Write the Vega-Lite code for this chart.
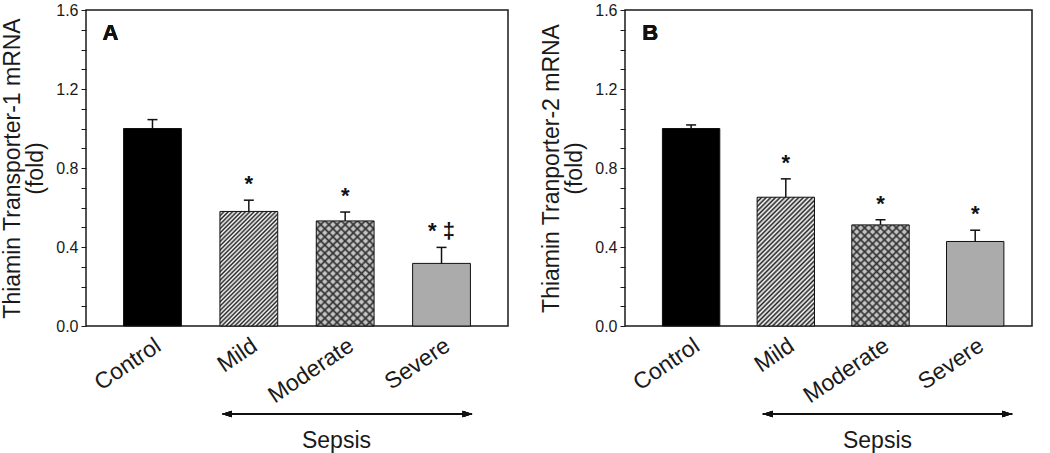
{
"$schema":"https://vega.github.io/schema/vega-lite/v6.json",
"background":"white",
"padding":{"left":1,"top":1,"right":5,"bottom":5},
"config":{
 "font":"Liberation Sans",
 "view":{"stroke":"#1a1a1a","strokeWidth":1.5},
 "axis":{"grid":false,"labelFont":"Liberation Sans","titleFont":"Liberation Sans","labelColor":"#1a1a1a","titleColor":"#1a1a1a","tickColor":"#1a1a1a","domain":false,"titleFontWeight":"normal"},
 "concat":{"spacing":31}
},
"hconcat":[
{
 "width":422,"height":316,
 "data":{"values":[
  {"group":"Control","mean":1.0,"upper":1.045,"sig":""},
  {"group":"Mild","mean":0.58,"upper":0.637,"sig":"*"},
  {"group":"Moderate","mean":0.532,"upper":0.577,"sig":"*"},
  {"group":"Severe","mean":0.317,"upper":0.398,"sig":"* ‡"}
 ]},
 "encoding":{
  "x":{"field":"group","type":"nominal","sort":null,
   "scale":{"domain":["Control","Mild","Moderate","Severe"],"paddingInner":0.4,"paddingOuter":0.39},
   "axis":{"title":"Sepsis","titleFontSize":23,"titleX":250,"titleY":121,"titleBaseline":"alphabetic","titleAlign":"center","labelAngle":-34,"labelAlign":"right","labelBaseline":"top","labelFontSize":23,"labelPadding":8,"labelOffset":0,"ticks":false,"tickSize":0}},
  "y":{"field":"mean","type":"quantitative",
   "scale":{"domain":[0,1.6],"nice":false,"zero":false},
   "axis":{"title":["Thiamin Transporter-1 mRNA","(fold)"],"values":[0,0.1,0.2,0.3,0.4,0.5,0.6,0.7,0.8,0.9,1,1.1,1.2,1.3,1.4,1.5,1.6],"labelExpr":"round(datum.value*10) % 4 === 0 ? format(datum.value, '.1f') : ''","labelOverlap":false,"labelFlush":false,"labelFontSize":16,"labelPadding":3,"tickSize":5,"tickWidth":1,"titleFontSize":23,"titleLineHeight":23,"titlePadding":8}}
 },
 "layer":[
  {"transform":[{"filter":"datum.group === 'Control'"}],"mark":{"type":"bar","fill":"#000","stroke":"#111","strokeWidth":1}},
  {"transform":[{"filter":"datum.group === 'Mild'"}],"mark":{"type":"bar","stroke":"#111","strokeWidth":1,"fill":{"gradient":"linear","x1":0,"y1":0,"x2":0.6049,"y2":1.1993,"stops":[
   {"offset":0,"color":"#222"},{"offset":0.0125,"color":"#fff"},{"offset":0.025,"color":"#222"},{"offset":0.0375,"color":"#fff"},{"offset":0.05,"color":"#222"},{"offset":0.0625,"color":"#fff"},{"offset":0.075,"color":"#222"},{"offset":0.0875,"color":"#fff"},{"offset":0.1,"color":"#222"},{"offset":0.1125,"color":"#fff"},{"offset":0.125,"color":"#222"},{"offset":0.1375,"color":"#fff"},{"offset":0.15,"color":"#222"},{"offset":0.1625,"color":"#fff"},{"offset":0.175,"color":"#222"},{"offset":0.1875,"color":"#fff"},{"offset":0.2,"color":"#222"},{"offset":0.2125,"color":"#fff"},{"offset":0.225,"color":"#222"},{"offset":0.2375,"color":"#fff"},{"offset":0.25,"color":"#222"},{"offset":0.2625,"color":"#fff"},{"offset":0.275,"color":"#222"},{"offset":0.2875,"color":"#fff"},{"offset":0.3,"color":"#222"},{"offset":0.3125,"color":"#fff"},{"offset":0.325,"color":"#222"},{"offset":0.3375,"color":"#fff"},{"offset":0.35,"color":"#222"},{"offset":0.3625,"color":"#fff"},{"offset":0.375,"color":"#222"},{"offset":0.3875,"color":"#fff"},{"offset":0.4,"color":"#222"},{"offset":0.4125,"color":"#fff"},{"offset":0.425,"color":"#222"},{"offset":0.4375,"color":"#fff"},{"offset":0.45,"color":"#222"},{"offset":0.4625,"color":"#fff"},{"offset":0.475,"color":"#222"},{"offset":0.4875,"color":"#fff"},{"offset":0.5,"color":"#222"},{"offset":0.5125,"color":"#fff"},{"offset":0.525,"color":"#222"},{"offset":0.5375,"color":"#fff"},{"offset":0.55,"color":"#222"},{"offset":0.5625,"color":"#fff"},{"offset":0.575,"color":"#222"},{"offset":0.5875,"color":"#fff"},{"offset":0.6,"color":"#222"},{"offset":0.6125,"color":"#fff"},{"offset":0.625,"color":"#222"},{"offset":0.6375,"color":"#fff"},{"offset":0.65,"color":"#222"},{"offset":0.6625,"color":"#fff"},{"offset":0.675,"color":"#222"},{"offset":0.6875,"color":"#fff"},{"offset":0.7,"color":"#222"},{"offset":0.7125,"color":"#fff"},{"offset":0.725,"color":"#222"},{"offset":0.7375,"color":"#fff"},{"offset":0.75,"color":"#222"},{"offset":0.7625,"color":"#fff"},{"offset":0.775,"color":"#222"},{"offset":0.7875,"color":"#fff"},{"offset":0.8,"color":"#222"},{"offset":0.8125,"color":"#fff"},{"offset":0.825,"color":"#222"},{"offset":0.8375,"color":"#fff"},{"offset":0.85,"color":"#222"},{"offset":0.8625,"color":"#fff"},{"offset":0.875,"color":"#222"},{"offset":0.8875,"color":"#fff"},{"offset":0.9,"color":"#222"},{"offset":0.9125,"color":"#fff"},{"offset":0.925,"color":"#222"},{"offset":0.9375,"color":"#fff"},{"offset":0.95,"color":"#222"},{"offset":0.9625,"color":"#fff"},{"offset":0.975,"color":"#222"},{"offset":0.9875,"color":"#fff"},{"offset":1,"color":"#222"}]}}},
  {"transform":[{"filter":"datum.group === 'Moderate'"}],"mark":{"type":"bar","strokeWidth":0,"fill":{"gradient":"linear","x1":0,"y1":1,"x2":0.6545,"y2":-0.19,"stops":[
   {"offset":0,"color":"#333"},{"offset":0.015,"color":"#c4c4c4"},{"offset":0.035,"color":"#c4c4c4"},{"offset":0.05,"color":"#333"},{"offset":0.065,"color":"#c4c4c4"},{"offset":0.085,"color":"#c4c4c4"},{"offset":0.1,"color":"#333"},{"offset":0.115,"color":"#c4c4c4"},{"offset":0.135,"color":"#c4c4c4"},{"offset":0.15,"color":"#333"},{"offset":0.165,"color":"#c4c4c4"},{"offset":0.185,"color":"#c4c4c4"},{"offset":0.2,"color":"#333"},{"offset":0.215,"color":"#c4c4c4"},{"offset":0.235,"color":"#c4c4c4"},{"offset":0.25,"color":"#333"},{"offset":0.265,"color":"#c4c4c4"},{"offset":0.285,"color":"#c4c4c4"},{"offset":0.3,"color":"#333"},{"offset":0.315,"color":"#c4c4c4"},{"offset":0.335,"color":"#c4c4c4"},{"offset":0.35,"color":"#333"},{"offset":0.365,"color":"#c4c4c4"},{"offset":0.385,"color":"#c4c4c4"},{"offset":0.4,"color":"#333"},{"offset":0.415,"color":"#c4c4c4"},{"offset":0.435,"color":"#c4c4c4"},{"offset":0.45,"color":"#333"},{"offset":0.465,"color":"#c4c4c4"},{"offset":0.485,"color":"#c4c4c4"},{"offset":0.5,"color":"#333"},{"offset":0.515,"color":"#c4c4c4"},{"offset":0.535,"color":"#c4c4c4"},{"offset":0.55,"color":"#333"},{"offset":0.565,"color":"#c4c4c4"},{"offset":0.585,"color":"#c4c4c4"},{"offset":0.6,"color":"#333"},{"offset":0.615,"color":"#c4c4c4"},{"offset":0.635,"color":"#c4c4c4"},{"offset":0.65,"color":"#333"},{"offset":0.665,"color":"#c4c4c4"},{"offset":0.685,"color":"#c4c4c4"},{"offset":0.7,"color":"#333"},{"offset":0.715,"color":"#c4c4c4"},{"offset":0.735,"color":"#c4c4c4"},{"offset":0.75,"color":"#333"},{"offset":0.765,"color":"#c4c4c4"},{"offset":0.785,"color":"#c4c4c4"},{"offset":0.8,"color":"#333"},{"offset":0.815,"color":"#c4c4c4"},{"offset":0.835,"color":"#c4c4c4"},{"offset":0.85,"color":"#333"},{"offset":0.865,"color":"#c4c4c4"},{"offset":0.885,"color":"#c4c4c4"},{"offset":0.9,"color":"#333"},{"offset":0.915,"color":"#c4c4c4"},{"offset":0.935,"color":"#c4c4c4"},{"offset":0.95,"color":"#333"},{"offset":0.965,"color":"#c4c4c4"},{"offset":0.985,"color":"#c4c4c4"},{"offset":1,"color":"#333"}]}}},
  {"transform":[{"filter":"datum.group === 'Moderate'"}],"mark":{"type":"bar","stroke":"#111","strokeWidth":1,"fill":{"gradient":"linear","x1":0,"y1":0,"x2":0.6545,"y2":1.19,"stops":[
   {"offset":0,"color":"#333"},{"offset":0.015,"color":"rgba(51,51,51,0)"},{"offset":0.035,"color":"rgba(51,51,51,0)"},{"offset":0.05,"color":"#333"},{"offset":0.065,"color":"rgba(51,51,51,0)"},{"offset":0.085,"color":"rgba(51,51,51,0)"},{"offset":0.1,"color":"#333"},{"offset":0.115,"color":"rgba(51,51,51,0)"},{"offset":0.135,"color":"rgba(51,51,51,0)"},{"offset":0.15,"color":"#333"},{"offset":0.165,"color":"rgba(51,51,51,0)"},{"offset":0.185,"color":"rgba(51,51,51,0)"},{"offset":0.2,"color":"#333"},{"offset":0.215,"color":"rgba(51,51,51,0)"},{"offset":0.235,"color":"rgba(51,51,51,0)"},{"offset":0.25,"color":"#333"},{"offset":0.265,"color":"rgba(51,51,51,0)"},{"offset":0.285,"color":"rgba(51,51,51,0)"},{"offset":0.3,"color":"#333"},{"offset":0.315,"color":"rgba(51,51,51,0)"},{"offset":0.335,"color":"rgba(51,51,51,0)"},{"offset":0.35,"color":"#333"},{"offset":0.365,"color":"rgba(51,51,51,0)"},{"offset":0.385,"color":"rgba(51,51,51,0)"},{"offset":0.4,"color":"#333"},{"offset":0.415,"color":"rgba(51,51,51,0)"},{"offset":0.435,"color":"rgba(51,51,51,0)"},{"offset":0.45,"color":"#333"},{"offset":0.465,"color":"rgba(51,51,51,0)"},{"offset":0.485,"color":"rgba(51,51,51,0)"},{"offset":0.5,"color":"#333"},{"offset":0.515,"color":"rgba(51,51,51,0)"},{"offset":0.535,"color":"rgba(51,51,51,0)"},{"offset":0.55,"color":"#333"},{"offset":0.565,"color":"rgba(51,51,51,0)"},{"offset":0.585,"color":"rgba(51,51,51,0)"},{"offset":0.6,"color":"#333"},{"offset":0.615,"color":"rgba(51,51,51,0)"},{"offset":0.635,"color":"rgba(51,51,51,0)"},{"offset":0.65,"color":"#333"},{"offset":0.665,"color":"rgba(51,51,51,0)"},{"offset":0.685,"color":"rgba(51,51,51,0)"},{"offset":0.7,"color":"#333"},{"offset":0.715,"color":"rgba(51,51,51,0)"},{"offset":0.735,"color":"rgba(51,51,51,0)"},{"offset":0.75,"color":"#333"},{"offset":0.765,"color":"rgba(51,51,51,0)"},{"offset":0.785,"color":"rgba(51,51,51,0)"},{"offset":0.8,"color":"#333"},{"offset":0.815,"color":"rgba(51,51,51,0)"},{"offset":0.835,"color":"rgba(51,51,51,0)"},{"offset":0.85,"color":"#333"},{"offset":0.865,"color":"rgba(51,51,51,0)"},{"offset":0.885,"color":"rgba(51,51,51,0)"},{"offset":0.9,"color":"#333"},{"offset":0.915,"color":"rgba(51,51,51,0)"},{"offset":0.935,"color":"rgba(51,51,51,0)"},{"offset":0.95,"color":"#333"},{"offset":0.965,"color":"rgba(51,51,51,0)"},{"offset":0.985,"color":"rgba(51,51,51,0)"},{"offset":1,"color":"#333"}]}}},
  {"transform":[{"filter":"datum.group === 'Severe'"}],"mark":{"type":"bar","fill":"#ababab","stroke":"#111","strokeWidth":1}},
  {"mark":{"type":"rule","stroke":"#111","strokeWidth":1.5},"encoding":{"y":{"field":"mean","type":"quantitative"},"y2":{"field":"upper"}}},
  {"mark":{"type":"tick","color":"#111","size":10,"thickness":1.5,"opacity":1},"encoding":{"y":{"field":"upper","type":"quantitative"}}},
  {"mark":{"type":"text","font":"Liberation Sans","fontSize":22,"fontWeight":"bold","baseline":"alphabetic","dy":-9,"color":"#111"},"encoding":{"y":{"field":"upper","type":"quantitative"},"text":{"field":"sig"}}},
  {"mark":{"type":"rule","stroke":"#111","strokeWidth":1.5,"xOffset":-26,"x2Offset":30},"encoding":{"x":{"datum":"Mild"},"x2":{"datum":"Severe"},"y":{"datum":-0.446}}},
  {"mark":{"type":"point","shape":"M -1 0 L 1 -0.65 L 1 0.65 Z","size":100,"filled":true,"color":"#111","opacity":1,"xOffset":-22},"encoding":{"x":{"datum":"Mild"},"y":{"datum":-0.446}}},
  {"mark":{"type":"point","shape":"M 1 0 L -1 -0.65 L -1 0.65 Z","size":100,"filled":true,"color":"#111","opacity":1,"xOffset":26},"encoding":{"x":{"datum":"Severe"},"y":{"datum":-0.446}}},
  {"mark":{"type":"text","text":"A","font":"Liberation Sans","fontSize":22,"fontWeight":"bold","baseline":"middle","align":"center","color":"#111","xOffset":-42},"encoding":{"x":{"datum":"Control"},"y":{"datum":1.485}}}
 ]
},
{
 "width":407,"height":316,
 "data":{"values":[
  {"group":"Control","mean":1.0,"upper":1.018,"sig":""},
  {"group":"Mild","mean":0.652,"upper":0.745,"sig":"*"},
  {"group":"Moderate","mean":0.512,"upper":0.538,"sig":"*"},
  {"group":"Severe","mean":0.428,"upper":0.485,"sig":"*"}
 ]},
 "encoding":{
  "x":{"field":"group","type":"nominal","sort":null,
   "scale":{"domain":["Control","Mild","Moderate","Severe"],"paddingInner":0.394,"paddingOuter":0.346,"align":0.571},
   "axis":{"title":"Sepsis","titleFontSize":23,"titleX":252,"titleY":121,"titleBaseline":"alphabetic","titleAlign":"center","labelAngle":-34,"labelAlign":"right","labelBaseline":"top","labelFontSize":23,"labelPadding":8,"labelOffset":0,"ticks":false,"tickSize":0}},
  "y":{"field":"mean","type":"quantitative",
   "scale":{"domain":[0,1.6],"nice":false,"zero":false},
   "axis":{"title":["Thiamin Tranporter-2 mRNA","(fold)"],"values":[0,0.1,0.2,0.3,0.4,0.5,0.6,0.7,0.8,0.9,1,1.1,1.2,1.3,1.4,1.5,1.6],"labelExpr":"round(datum.value*10) % 4 === 0 ? format(datum.value, '.1f') : ''","labelOverlap":false,"labelFlush":false,"labelFontSize":16,"labelPadding":3,"tickSize":5,"tickWidth":1,"titleFontSize":23,"titleLineHeight":23,"titlePadding":8}}
 },
 "layer":[
  {"transform":[{"filter":"datum.group === 'Control'"}],"mark":{"type":"bar","fill":"#000","stroke":"#111","strokeWidth":1}},
  {"transform":[{"filter":"datum.group === 'Mild'"}],"mark":{"type":"bar","stroke":"#111","strokeWidth":1,"fill":{"gradient":"linear","x1":0,"y1":0,"x2":0.5375,"y2":1.2061,"stops":[
   {"offset":0,"color":"#222"},{"offset":0.0125,"color":"#fff"},{"offset":0.025,"color":"#222"},{"offset":0.0375,"color":"#fff"},{"offset":0.05,"color":"#222"},{"offset":0.0625,"color":"#fff"},{"offset":0.075,"color":"#222"},{"offset":0.0875,"color":"#fff"},{"offset":0.1,"color":"#222"},{"offset":0.1125,"color":"#fff"},{"offset":0.125,"color":"#222"},{"offset":0.1375,"color":"#fff"},{"offset":0.15,"color":"#222"},{"offset":0.1625,"color":"#fff"},{"offset":0.175,"color":"#222"},{"offset":0.1875,"color":"#fff"},{"offset":0.2,"color":"#222"},{"offset":0.2125,"color":"#fff"},{"offset":0.225,"color":"#222"},{"offset":0.2375,"color":"#fff"},{"offset":0.25,"color":"#222"},{"offset":0.2625,"color":"#fff"},{"offset":0.275,"color":"#222"},{"offset":0.2875,"color":"#fff"},{"offset":0.3,"color":"#222"},{"offset":0.3125,"color":"#fff"},{"offset":0.325,"color":"#222"},{"offset":0.3375,"color":"#fff"},{"offset":0.35,"color":"#222"},{"offset":0.3625,"color":"#fff"},{"offset":0.375,"color":"#222"},{"offset":0.3875,"color":"#fff"},{"offset":0.4,"color":"#222"},{"offset":0.4125,"color":"#fff"},{"offset":0.425,"color":"#222"},{"offset":0.4375,"color":"#fff"},{"offset":0.45,"color":"#222"},{"offset":0.4625,"color":"#fff"},{"offset":0.475,"color":"#222"},{"offset":0.4875,"color":"#fff"},{"offset":0.5,"color":"#222"},{"offset":0.5125,"color":"#fff"},{"offset":0.525,"color":"#222"},{"offset":0.5375,"color":"#fff"},{"offset":0.55,"color":"#222"},{"offset":0.5625,"color":"#fff"},{"offset":0.575,"color":"#222"},{"offset":0.5875,"color":"#fff"},{"offset":0.6,"color":"#222"},{"offset":0.6125,"color":"#fff"},{"offset":0.625,"color":"#222"},{"offset":0.6375,"color":"#fff"},{"offset":0.65,"color":"#222"},{"offset":0.6625,"color":"#fff"},{"offset":0.675,"color":"#222"},{"offset":0.6875,"color":"#fff"},{"offset":0.7,"color":"#222"},{"offset":0.7125,"color":"#fff"},{"offset":0.725,"color":"#222"},{"offset":0.7375,"color":"#fff"},{"offset":0.75,"color":"#222"},{"offset":0.7625,"color":"#fff"},{"offset":0.775,"color":"#222"},{"offset":0.7875,"color":"#fff"},{"offset":0.8,"color":"#222"},{"offset":0.8125,"color":"#fff"},{"offset":0.825,"color":"#222"},{"offset":0.8375,"color":"#fff"},{"offset":0.85,"color":"#222"},{"offset":0.8625,"color":"#fff"},{"offset":0.875,"color":"#222"},{"offset":0.8875,"color":"#fff"},{"offset":0.9,"color":"#222"},{"offset":0.9125,"color":"#fff"},{"offset":0.925,"color":"#222"},{"offset":0.9375,"color":"#fff"},{"offset":0.95,"color":"#222"},{"offset":0.9625,"color":"#fff"},{"offset":0.975,"color":"#222"},{"offset":0.9875,"color":"#fff"},{"offset":1,"color":"#222"}]}}},
  {"transform":[{"filter":"datum.group === 'Moderate'"}],"mark":{"type":"bar","strokeWidth":0,"fill":{"gradient":"linear","x1":0,"y1":1,"x2":0.6731,"y2":-0.1856,"stops":[
   {"offset":0,"color":"#333"},{"offset":0.015,"color":"#c4c4c4"},{"offset":0.035,"color":"#c4c4c4"},{"offset":0.05,"color":"#333"},{"offset":0.065,"color":"#c4c4c4"},{"offset":0.085,"color":"#c4c4c4"},{"offset":0.1,"color":"#333"},{"offset":0.115,"color":"#c4c4c4"},{"offset":0.135,"color":"#c4c4c4"},{"offset":0.15,"color":"#333"},{"offset":0.165,"color":"#c4c4c4"},{"offset":0.185,"color":"#c4c4c4"},{"offset":0.2,"color":"#333"},{"offset":0.215,"color":"#c4c4c4"},{"offset":0.235,"color":"#c4c4c4"},{"offset":0.25,"color":"#333"},{"offset":0.265,"color":"#c4c4c4"},{"offset":0.285,"color":"#c4c4c4"},{"offset":0.3,"color":"#333"},{"offset":0.315,"color":"#c4c4c4"},{"offset":0.335,"color":"#c4c4c4"},{"offset":0.35,"color":"#333"},{"offset":0.365,"color":"#c4c4c4"},{"offset":0.385,"color":"#c4c4c4"},{"offset":0.4,"color":"#333"},{"offset":0.415,"color":"#c4c4c4"},{"offset":0.435,"color":"#c4c4c4"},{"offset":0.45,"color":"#333"},{"offset":0.465,"color":"#c4c4c4"},{"offset":0.485,"color":"#c4c4c4"},{"offset":0.5,"color":"#333"},{"offset":0.515,"color":"#c4c4c4"},{"offset":0.535,"color":"#c4c4c4"},{"offset":0.55,"color":"#333"},{"offset":0.565,"color":"#c4c4c4"},{"offset":0.585,"color":"#c4c4c4"},{"offset":0.6,"color":"#333"},{"offset":0.615,"color":"#c4c4c4"},{"offset":0.635,"color":"#c4c4c4"},{"offset":0.65,"color":"#333"},{"offset":0.665,"color":"#c4c4c4"},{"offset":0.685,"color":"#c4c4c4"},{"offset":0.7,"color":"#333"},{"offset":0.715,"color":"#c4c4c4"},{"offset":0.735,"color":"#c4c4c4"},{"offset":0.75,"color":"#333"},{"offset":0.765,"color":"#c4c4c4"},{"offset":0.785,"color":"#c4c4c4"},{"offset":0.8,"color":"#333"},{"offset":0.815,"color":"#c4c4c4"},{"offset":0.835,"color":"#c4c4c4"},{"offset":0.85,"color":"#333"},{"offset":0.865,"color":"#c4c4c4"},{"offset":0.885,"color":"#c4c4c4"},{"offset":0.9,"color":"#333"},{"offset":0.915,"color":"#c4c4c4"},{"offset":0.935,"color":"#c4c4c4"},{"offset":0.95,"color":"#333"},{"offset":0.965,"color":"#c4c4c4"},{"offset":0.985,"color":"#c4c4c4"},{"offset":1,"color":"#333"}]}}},
  {"transform":[{"filter":"datum.group === 'Moderate'"}],"mark":{"type":"bar","stroke":"#111","strokeWidth":1,"fill":{"gradient":"linear","x1":0,"y1":0,"x2":0.6731,"y2":1.1856,"stops":[
   {"offset":0,"color":"#333"},{"offset":0.015,"color":"rgba(51,51,51,0)"},{"offset":0.035,"color":"rgba(51,51,51,0)"},{"offset":0.05,"color":"#333"},{"offset":0.065,"color":"rgba(51,51,51,0)"},{"offset":0.085,"color":"rgba(51,51,51,0)"},{"offset":0.1,"color":"#333"},{"offset":0.115,"color":"rgba(51,51,51,0)"},{"offset":0.135,"color":"rgba(51,51,51,0)"},{"offset":0.15,"color":"#333"},{"offset":0.165,"color":"rgba(51,51,51,0)"},{"offset":0.185,"color":"rgba(51,51,51,0)"},{"offset":0.2,"color":"#333"},{"offset":0.215,"color":"rgba(51,51,51,0)"},{"offset":0.235,"color":"rgba(51,51,51,0)"},{"offset":0.25,"color":"#333"},{"offset":0.265,"color":"rgba(51,51,51,0)"},{"offset":0.285,"color":"rgba(51,51,51,0)"},{"offset":0.3,"color":"#333"},{"offset":0.315,"color":"rgba(51,51,51,0)"},{"offset":0.335,"color":"rgba(51,51,51,0)"},{"offset":0.35,"color":"#333"},{"offset":0.365,"color":"rgba(51,51,51,0)"},{"offset":0.385,"color":"rgba(51,51,51,0)"},{"offset":0.4,"color":"#333"},{"offset":0.415,"color":"rgba(51,51,51,0)"},{"offset":0.435,"color":"rgba(51,51,51,0)"},{"offset":0.45,"color":"#333"},{"offset":0.465,"color":"rgba(51,51,51,0)"},{"offset":0.485,"color":"rgba(51,51,51,0)"},{"offset":0.5,"color":"#333"},{"offset":0.515,"color":"rgba(51,51,51,0)"},{"offset":0.535,"color":"rgba(51,51,51,0)"},{"offset":0.55,"color":"#333"},{"offset":0.565,"color":"rgba(51,51,51,0)"},{"offset":0.585,"color":"rgba(51,51,51,0)"},{"offset":0.6,"color":"#333"},{"offset":0.615,"color":"rgba(51,51,51,0)"},{"offset":0.635,"color":"rgba(51,51,51,0)"},{"offset":0.65,"color":"#333"},{"offset":0.665,"color":"rgba(51,51,51,0)"},{"offset":0.685,"color":"rgba(51,51,51,0)"},{"offset":0.7,"color":"#333"},{"offset":0.715,"color":"rgba(51,51,51,0)"},{"offset":0.735,"color":"rgba(51,51,51,0)"},{"offset":0.75,"color":"#333"},{"offset":0.765,"color":"rgba(51,51,51,0)"},{"offset":0.785,"color":"rgba(51,51,51,0)"},{"offset":0.8,"color":"#333"},{"offset":0.815,"color":"rgba(51,51,51,0)"},{"offset":0.835,"color":"rgba(51,51,51,0)"},{"offset":0.85,"color":"#333"},{"offset":0.865,"color":"rgba(51,51,51,0)"},{"offset":0.885,"color":"rgba(51,51,51,0)"},{"offset":0.9,"color":"#333"},{"offset":0.915,"color":"rgba(51,51,51,0)"},{"offset":0.935,"color":"rgba(51,51,51,0)"},{"offset":0.95,"color":"#333"},{"offset":0.965,"color":"rgba(51,51,51,0)"},{"offset":0.985,"color":"rgba(51,51,51,0)"},{"offset":1,"color":"#333"}]}}},
  {"transform":[{"filter":"datum.group === 'Severe'"}],"mark":{"type":"bar","fill":"#ababab","stroke":"#111","strokeWidth":1}},
  {"mark":{"type":"rule","stroke":"#111","strokeWidth":1.5},"encoding":{"y":{"field":"mean","type":"quantitative"},"y2":{"field":"upper"}}},
  {"mark":{"type":"tick","color":"#111","size":10,"thickness":1.5,"opacity":1},"encoding":{"y":{"field":"upper","type":"quantitative"}}},
  {"mark":{"type":"text","font":"Liberation Sans","fontSize":22,"fontWeight":"bold","baseline":"alphabetic","dy":-9,"color":"#111"},"encoding":{"y":{"field":"upper","type":"quantitative"},"text":{"field":"sig"}}},
  {"mark":{"type":"rule","stroke":"#111","strokeWidth":1.5,"xOffset":-23,"x2Offset":37},"encoding":{"x":{"datum":"Mild"},"x2":{"datum":"Severe"},"y":{"datum":-0.446}}},
  {"mark":{"type":"point","shape":"M -1 0 L 1 -0.65 L 1 0.65 Z","size":100,"filled":true,"color":"#111","opacity":1,"xOffset":-18},"encoding":{"x":{"datum":"Mild"},"y":{"datum":-0.446}}},
  {"mark":{"type":"point","shape":"M 1 0 L -1 -0.65 L -1 0.65 Z","size":100,"filled":true,"color":"#111","opacity":1,"xOffset":32},"encoding":{"x":{"datum":"Severe"},"y":{"datum":-0.446}}},
  {"mark":{"type":"text","text":"B","font":"Liberation Sans","fontSize":22,"fontWeight":"bold","baseline":"middle","align":"center","color":"#111","xOffset":-41},"encoding":{"x":{"datum":"Control"},"y":{"datum":1.485}}}
 ]
}
]
}
